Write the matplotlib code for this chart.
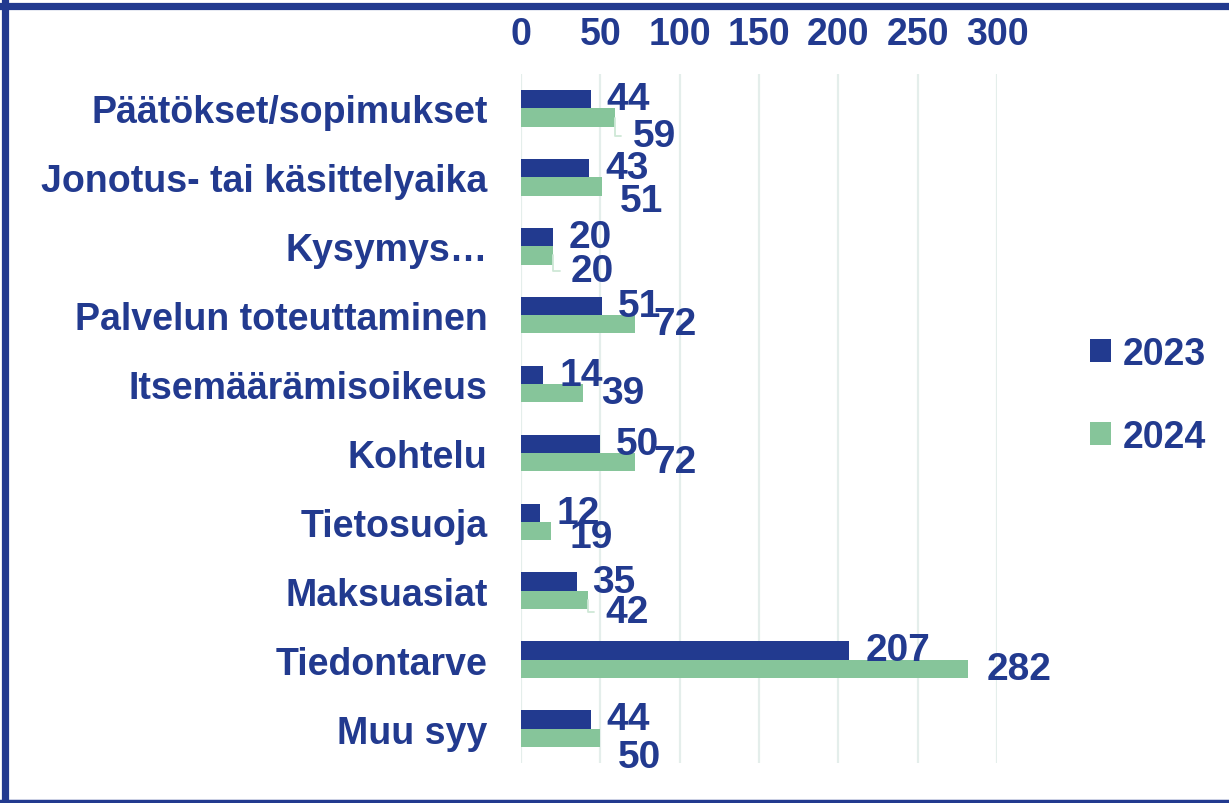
import matplotlib
matplotlib.use("Agg")
import matplotlib.pyplot as plt
from matplotlib.lines import Line2D
import numpy as np

plt.rcParams['font.family'] = ['Liberation Sans', 'DejaVu Sans']

# data
categories = ['Päätökset/sopimukset', 'Jonotus- tai käsittelyaika', 'Kysymys…',
              'Palvelun toteuttaminen', 'Itsemäärämisoikeus', 'Kohtelu',
              'Tietosuoja', 'Maksuasiat', 'Tiedontarve', 'Muu syy']
vals_2023 = [44, 43, 20, 51, 14, 50, 12, 35, 207, 44]
vals_2024 = [59, 51, 20, 72, 39, 72, 19, 42, 282, 50]
series_names = ['2023', '2024']

# label placement (pixels below the green bar) as Excel left it
dy_2024 = [18, 15, 16, 0, 0, 0, 6, 12, 0, 19]
leader = [0, 2, 7]

BLUE = '#223A8F'
GREEN = '#86C59A'
GRID = '#E4EEEB'

fig = plt.figure(figsize=(12.29, 8.04), dpi=100)
ax = fig.add_axes([0.4239, 0.0498, 0.3873, 0.8569])

y = np.arange(len(categories))
h = 0.265
ax.barh(y - h / 2, vals_2023, height=h, color=BLUE, label=series_names[0], zorder=3)
ax.barh(y + h / 2, vals_2024, height=h, color=GREEN, label=series_names[1], zorder=3)

ax.set_xlim(0, 300)
ax.set_ylim(len(categories) - 0.5, -0.5)
ax.set_xticks(np.arange(0, 301, 50))
ax.set_yticks(y)
ax.set_yticklabels(categories)
ax.xaxis.tick_top()
ax.tick_params(axis='both', length=0, labelsize=27, labelcolor=BLUE)
ax.tick_params(axis='x', pad=16)
ax.tick_params(axis='y', pad=24)
for t in ax.get_xticklabels() + ax.get_yticklabels():
    t.set_fontweight('bold')
ax.grid(axis='x', color=GRID, lw=1.6, zorder=0)
for s in ax.spines.values():
    s.set_visible(False)

# data labels
for i in range(len(categories)):
    ax.annotate(str(vals_2023[i]), xy=(vals_2023[i], y[i] - h / 2),
                xytext=(16, 0), textcoords='offset pixels',
                ha='left', va='center', fontsize=28, fontweight='bold',
                color=BLUE, zorder=5)
    arrow = None
    if i in leader:
        arrow = dict(arrowstyle='-', color='#CFE8D7', lw=1.3,
                     connectionstyle='angle,angleA=0,angleB=90,rad=0',
                     relpos=(0, 0.5), shrinkA=6, shrinkB=0)
    ax.annotate(str(vals_2024[i]), xy=(vals_2024[i], y[i] + h / 2),
                xytext=(18, -dy_2024[i]), textcoords='offset pixels',
                ha='left', va='center', fontsize=28, fontweight='bold',
                color=BLUE, zorder=5, arrowprops=arrow)

leg = fig.legend(loc='center left', bbox_to_anchor=(0.872, 0.507), frameon=False,
                 fontsize=27, handlelength=0.55, handleheight=0.55,
                 handletextpad=0.3, labelspacing=1.25, borderpad=0)
for t in leg.get_texts():
    t.set_color(BLUE)
    t.set_fontweight('bold')

# frame around the chart
fig.add_artist(Line2D([0.0037, 0.0037], [0, 1], transform=fig.transFigure, color=BLUE, lw=5.2))
fig.add_artist(Line2D([0, 1], [0.9917, 0.9917], transform=fig.transFigure, color=BLUE, lw=5.2))
fig.add_artist(Line2D([0, 1], [0.0022, 0.0022], transform=fig.transFigure, color=BLUE, lw=2.5))

fig.savefig('out.png', dpi=100)
